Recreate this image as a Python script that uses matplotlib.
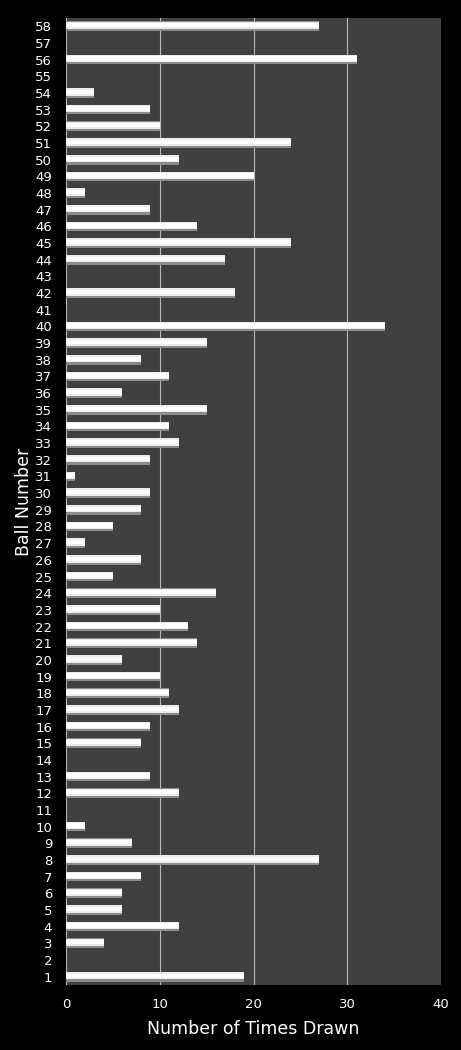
import matplotlib.pyplot as plt
import numpy as np

# ball numbers 1..58 and the number of times each was drawn
balls = list(range(1, 59))
times_drawn = [19, 0, 4, 12, 6, 6, 8, 27, 7, 2,
               0, 12, 9, 0, 8, 9, 12, 11, 10, 6,
               14, 13, 10, 16, 5, 8, 2, 5, 8, 9,
               1, 9, 12, 11, 15, 6, 11, 8, 15, 34,
               0, 18, 0, 17, 24, 14, 9, 2, 20, 12,
               24, 10, 9, 3, 0, 31, 0, 27]
x_ticks = [0, 10, 20, 30, 40]

fig = plt.figure(figsize=(4.61, 10.5), dpi=100, facecolor="black")
ax = fig.add_axes([0.1432, 0.0619, 0.8134, 0.921])
ax.set_facecolor("#404040")

# bars with a rough "3D" shading: grey base, white body
y = np.array(balls)
ax.barh(y, times_drawn, height=0.58, color="#8c8c8c", zorder=2)
ax.barh(y + 0.06, times_drawn, height=0.44, color="#ececec", zorder=3)
ax.barh(y + 0.06, times_drawn, height=0.26, color="#ffffff", zorder=4)

ax.set_xlim(0, 40)
ax.set_ylim(0.5, 58.5)
ax.set_xticks(x_ticks)
ax.set_yticks(balls)
ax.set_yticklabels([str(b) for b in balls])
ax.xaxis.grid(True, color="#b8b8b8", lw=0.8, zorder=1)
ax.set_axisbelow(True)

for s in ax.spines.values():
    s.set_visible(False)
ax.tick_params(axis="both", length=0, colors="white", labelsize=9.5)
ax.tick_params(axis="x", pad=9)
ax.tick_params(axis="y", pad=10)

ax.set_xlabel("Number of Times Drawn", color="white", fontsize=12.5, labelpad=7)
ax.set_ylabel("Ball Number", color="white", fontsize=12.5)
ax.yaxis.set_label_coords(-0.088, 0.5)

fig.savefig("out.png", dpi=100, facecolor="black")
